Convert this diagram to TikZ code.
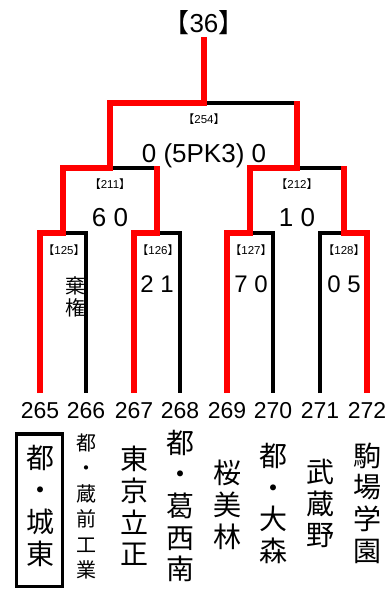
\documentclass[tikz,border=0pt]{standalone}
\usepackage{fontspec}
\setmainfont{Liberation Sans}
\newfontfamily\jp{Noto Sans CJK JP}
\newcommand{\LBr}{{\jp 【}}
\newcommand{\RBr}{{\jp 】}}
\begin{document}
\begin{tikzpicture}[x=1pt,y=-1pt,
  blk/.style={line width=3.5pt, draw=black, line join=miter},
  win/.style={line width=6pt, draw=red, line join=miter},
  bigtxt/.style={font=\fontsize{26}{26}\selectfont, inner sep=0, anchor=base},
  rtxt/.style={font=\fontsize{24}{24}\selectfont, inner sep=0, anchor=base},
  smalltxt/.style={font=\fontsize{11.5}{12}\selectfont, inner sep=0, anchor=base},
  numtxt/.style={font=\fontsize{23}{23}\selectfont, inner sep=0, anchor=base},
  team/.style={font=\jp\fontsize{28}{31.7}\selectfont, align=center, inner sep=0},
  teamsm/.style={font=\jp\fontsize{20}{25.4}\selectfont, align=center, inner sep=0}]
\useasboundingbox (0,0) rectangle (389,589);
% leaf bottoms
\coordinate (L1) at (40,393);
\coordinate (L2) at (86,393);
\coordinate (L3) at (134,393);
\coordinate (L4) at (180,393);
\coordinate (L5) at (227,393);
\coordinate (L6) at (273,393);
\coordinate (L7) at (320,393);
\coordinate (L8) at (367,393);
% match points
\coordinate (M1) at (63,233);
\coordinate (M2) at (157,233);
\coordinate (M3) at (250,233);
\coordinate (M4) at (343.5,233);
\coordinate (Q1) at (110,168);
\coordinate (Q2) at (296.75,168);
\coordinate (F) at (204,103);
\coordinate (T) at (204,37);
\coordinate (E2) at (157,166.25);
\coordinate (E5) at (296.75,101.25);
\coordinate (E8) at (343.5,166.25);
% black bracket
\draw[blk] (L1) |- (M1) -| (L2);
\draw[blk] (L3) |- (M2) -| (L4);
\draw[blk] (L5) |- (M3) -| (L6);
\draw[blk] (L7) |- (M4) -| (L8);
\draw[blk] (M1) |- (Q1) -| (M2);
\draw[blk] (M3) |- (Q2) -| (M4);
\draw[blk] (Q1) |- (F) -| (Q2);
% winners
\draw[win] (L1) |- (M1) |- (Q1) |- (F) -- (T);
\draw[win] (L3) |- (M2) -- (E2);
\draw[win] (L5) |- (M3) |- (Q2) -- (E5);
\draw[win] (L8) |- (M4) -- (E8);
% labels
\node[bigtxt] (title) at (204,32) {\LBr 36\RBr};
\node[smalltxt] (g254) at (204,123) {\LBr 254\RBr};
\node[bigtxt] (s254) at (204,162) {0 (5PK3) 0};
\node[smalltxt] (g211) at (110,188) {\LBr 211\RBr};
\node[smalltxt] (g212) at (297,188) {\LBr 212\RBr};
\node[bigtxt] (s211) at (110,226) {6 0};
\node[bigtxt] (s212) at (297,226) {1 0};
\node[smalltxt] (g125) at (64,254) {\LBr 125\RBr};
\node[smalltxt] (g126) at (158,254) {\LBr 126\RBr};
\node[smalltxt] (g127) at (251,254) {\LBr 127\RBr};
\node[smalltxt] (g128) at (344,254) {\LBr 128\RBr};
\node[font=\jp\fontsize{20}{22}\selectfont, align=center, inner sep=0] (kiken) at (75,297) {棄\\権};
\node[rtxt] (s126) at (157,292) {2 1};
\node[rtxt] (s127) at (251,292) {7 0};
\node[rtxt] (s128) at (344,292) {0 5};
% numbers
\node[numtxt] (n265) at (40,418) {265};
\node[numtxt] (n266) at (86,418) {266};
\node[numtxt] (n267) at (134,418) {267};
\node[numtxt] (n268) at (180,418) {268};
\node[numtxt] (n269) at (227,418) {269};
\node[numtxt] (n270) at (273,418) {270};
\node[numtxt] (n271) at (320,418) {271};
\node[numtxt] (n272) at (367,418) {272};
% team names
\node[draw, line width=3.5pt, minimum width=46pt, minimum height=152.5pt, inner sep=0] (box265) at (39.5,510) {};
\node[team] (t265) at (40,506) {都\\・\\城\\東};
\node[teamsm] (t266) at (86,506.5) {都\\・\\蔵\\前\\工\\業};
\node[team] (t267) at (134,506) {東\\京\\立\\正};
\node[team] (t268) at (180,506) {都\\・\\葛\\西\\南};
\node[team] (t269) at (227,505) {桜\\美\\林};
\node[team] (t270) at (273,503.5) {都\\・\\大\\森};
\node[team] (t271) at (320,503.5) {武\\蔵\\野};
\node[team] (t272) at (367,503) {駒\\場\\学\\園};
\end{tikzpicture}
\end{document}
